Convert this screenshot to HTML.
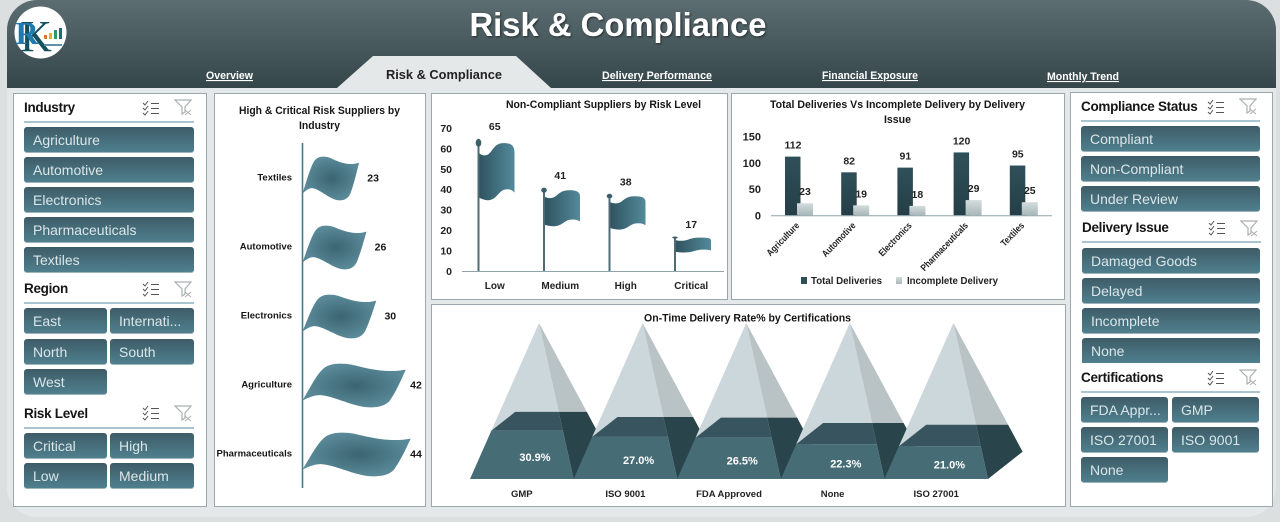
<!DOCTYPE html>
<html lang="en">
<head>
<meta charset="utf-8">
<title>Risk &amp; Compliance</title>
<style>
html,body{margin:0;padding:0;width:1280px;height:522px;overflow:hidden;background:#dcdfe0;font-family:"Liberation Sans",sans-serif;}
#stage{position:relative;width:1280px;height:522px;overflow:hidden;}
#art{position:absolute;left:0;top:0;}
.head{position:absolute;font-weight:bold;font-size:13.5px;letter-spacing:-.3px;color:#151515;line-height:16px;white-space:nowrap;}
.rule{position:absolute;height:2px;background:#a9c6d0;}
.sb{position:absolute;height:26px;box-sizing:border-box;padding-left:9px;line-height:27px;font-size:14px;color:#dbe6e9;border-radius:3px;background:linear-gradient(#3e5c67,#4f7f8e);border-bottom:1px solid #9fb4ba;white-space:nowrap;overflow:hidden;}
.sb.cut{border-radius:3px 3px 0 0;border-bottom:0;}
svg text{font-family:"Liberation Sans",sans-serif;}
</style>
</head>
<body>
<div id="stage">
<svg id="art" width="1280" height="522" viewBox="0 0 1280 522" xmlns="http://www.w3.org/2000/svg">
  <defs>
    <linearGradient id="hdr" gradientUnits="userSpaceOnUse" x1="0" y1="0" x2="0" y2="88"><stop offset="0" stop-color="#5c6d72"/><stop offset="1" stop-color="#35464a"/></linearGradient>
    <linearGradient id="flagH" x1="0" y1="0" x2="1" y2="0"><stop offset="0" stop-color="#2f525f"/><stop offset="1" stop-color="#538a9a"/></linearGradient>
    <radialGradient id="flagR" cx=".52" cy=".5" r=".5"><stop offset="0" stop-color="#3c6471"/><stop offset="1" stop-color="#5a8a99"/></radialGradient>
    <linearGradient id="barT" x1="0" y1="0" x2="0" y2="1"><stop offset="0" stop-color="#2f505a"/><stop offset="1" stop-color="#243e46"/></linearGradient>
    <linearGradient id="barI" x1="0" y1="0" x2="0" y2="1"><stop offset="0" stop-color="#d3dcdd"/><stop offset="1" stop-color="#a8b7ba"/></linearGradient>
    <clipPath id="hdrClip"><rect x="7" y="0" width="1269" height="88"/></clipPath>
    <symbol id="ico-check" viewBox="0 0 18 16">
      <path d="M1 3l2 2 3-4M1 8l2 2 3-4M1 13l2 2 3-4" fill="none" stroke="#555" stroke-width="1"/>
      <path d="M9 3.5h8M9 8.5h8M9 13.5h8" fill="none" stroke="#555" stroke-width="1.1"/>
    </symbol>
    <symbol id="ico-filter" viewBox="0 0 18 17">
      <path d="M1 1h16l-6 7v5l-3 2V8z" fill="none" stroke="#aab0b2" stroke-width="1.2"/>
      <path d="M11 11l6 5M17 11l-6 5" stroke="#aab0b2" stroke-width="1"/>
    </symbol>
  </defs>
  <rect x="7" y="0" width="1269" height="517" rx="30" fill="#e4e8e9"/>
  <rect x="7" y="0" width="1269" height="130" rx="30" fill="url(#hdr)" clip-path="url(#hdrClip)"/>
  <text x="618" y="36" font-size="33" font-weight="bold" fill="#fff" text-anchor="middle" textLength="297" lengthAdjust="spacingAndGlyphs" style="filter:drop-shadow(1px 1px 1px rgba(0,0,0,.55))">Risk &amp; Compliance</text>

  <g>
    <circle cx="40.5" cy="32.5" r="26" fill="#fff"/>
    <text x="36" y="51" font-size="44" fill="#12505e" text-anchor="middle" style="font-family:'Liberation Serif',serif">K</text>
    <text x="27" y="44" font-size="32" font-weight="bold" fill="#1f7ab0" text-anchor="middle" style="font-family:'Liberation Serif',serif">R</text>
    <rect x="44" y="35" width="3" height="4" fill="#e2732a"/><rect x="49" y="33" width="3" height="6" fill="#e2b02a"/><rect x="54" y="30" width="3" height="9" fill="#2a9a6a"/><rect x="59" y="28" width="3" height="11" fill="#12707e"/>
    <rect x="44" y="44" width="18" height="2" fill="#5e93a8"/>
  </g>

  <path d="M337 88L373 56H516L551 88Z" fill="#e4e8e9"/>
  <text x="444" y="79" font-size="13" font-weight="bold" fill="#222" text-anchor="middle" textLength="116" lengthAdjust="spacingAndGlyphs">Risk &amp; Compliance</text>
  <text x="229.5" y="79" font-size="11" font-weight="bold" fill="#fff" text-anchor="middle" text-decoration="underline" textLength="47" lengthAdjust="spacingAndGlyphs">Overview</text>
  <text x="657" y="79" font-size="11" font-weight="bold" fill="#fff" text-anchor="middle" text-decoration="underline" textLength="110" lengthAdjust="spacingAndGlyphs">Delivery Performance</text>
  <text x="870" y="79" font-size="11" font-weight="bold" fill="#fff" text-anchor="middle" text-decoration="underline" textLength="96" lengthAdjust="spacingAndGlyphs">Financial Exposure</text>
  <text x="1083" y="80" font-size="11" font-weight="bold" fill="#fff" text-anchor="middle" text-decoration="underline" textLength="72" lengthAdjust="spacingAndGlyphs">Monthly Trend</text>

  <rect x="13.5" y="93.5" width="193" height="413" fill="#fff" stroke="#9aa8ab"/>
  <rect x="214.5" y="93.5" width="211" height="413" fill="#fff" stroke="#9aa8ab"/>
  <rect x="431.5" y="93.5" width="296" height="206" fill="#fff" stroke="#9aa8ab"/>
  <rect x="731.5" y="93.5" width="333" height="206" fill="#fff" stroke="#9aa8ab"/>
  <rect x="431.5" y="304.5" width="634" height="202" fill="#fff" stroke="#9aa8ab"/>
  <rect x="1070.5" y="92.5" width="202" height="414" fill="#fff" stroke="#9aa8ab"/>

  <g fill="#161616" font-weight="bold" font-size="11">
    <text x="319.5" y="114" text-anchor="middle" textLength="161" lengthAdjust="spacingAndGlyphs">High &amp; Critical Risk Suppliers by</text>
    <text x="319.5" y="129" text-anchor="middle" textLength="41" lengthAdjust="spacingAndGlyphs">Industry</text>
    <text x="603.5" y="108" text-anchor="middle" textLength="195" lengthAdjust="spacingAndGlyphs">Non-Compliant Suppliers by Risk Level</text>
    <text x="897.5" y="108" text-anchor="middle" textLength="255" lengthAdjust="spacingAndGlyphs">Total Deliveries Vs Incomplete Delivery by Delivery</text>
    <text x="897.5" y="123" text-anchor="middle" textLength="27" lengthAdjust="spacingAndGlyphs">Issue</text>
  </g>

  <g id="chart-industry"></g>
  <g id="chart-risk"></g>
  <g id="chart-deliveries"></g>
  <g id="chart-cert"></g>
  <text x="747.5" y="321.5" font-size="11" font-weight="bold" fill="#161616" text-anchor="middle" textLength="207" lengthAdjust="spacingAndGlyphs">On-Time Delivery Rate% by Certifications</text>

  <use href="#ico-check" x="142" y="100" width="18" height="16"/>
  <use href="#ico-filter" x="174" y="99" width="18" height="17"/>
  <use href="#ico-check" x="142" y="281" width="18" height="16"/>
  <use href="#ico-filter" x="174" y="281" width="18" height="17"/>
  <use href="#ico-check" x="142" y="405" width="18" height="16"/>
  <use href="#ico-filter" x="174" y="405" width="18" height="17"/>
  <use href="#ico-check" x="1207" y="99" width="18" height="16"/>
  <use href="#ico-filter" x="1239" y="98" width="18" height="17"/>
  <use href="#ico-check" x="1208" y="220" width="18" height="16"/>
  <use href="#ico-filter" x="1240" y="220" width="18" height="17"/>
  <use href="#ico-check" x="1207" y="370" width="18" height="16"/>
  <use href="#ico-filter" x="1239" y="369" width="18" height="17"/>
</svg>

<div class="head" style="left:24px;top:100px">Industry</div>
<div class="rule" style="left:24px;top:121px;width:170px"></div>
<div class="sb" style="left:24px;top:127px;width:170px">Agriculture</div>
<div class="sb" style="left:24px;top:157px;width:170px">Automotive</div>
<div class="sb" style="left:24px;top:187px;width:170px">Electronics</div>
<div class="sb" style="left:24px;top:217px;width:170px">Pharmaceuticals</div>
<div class="sb" style="left:24px;top:247px;width:170px">Textiles</div>

<div class="head" style="left:24px;top:281px">Region</div>
<div class="rule" style="left:24px;top:302px;width:170px"></div>
<div class="sb" style="left:24px;top:308px;width:83px">East</div>
<div class="sb" style="left:110px;top:308px;width:84px">Internati...</div>
<div class="sb" style="left:24px;top:339px;width:83px">North</div>
<div class="sb" style="left:110px;top:339px;width:84px">South</div>
<div class="sb" style="left:24px;top:369px;width:83px">West</div>

<div class="head" style="left:24px;top:406px">Risk Level</div>
<div class="rule" style="left:24px;top:427px;width:170px"></div>
<div class="sb" style="left:24px;top:433px;width:83px">Critical</div>
<div class="sb" style="left:110px;top:433px;width:84px">High</div>
<div class="sb" style="left:24px;top:463px;width:83px">Low</div>
<div class="sb" style="left:110px;top:463px;width:84px">Medium</div>

<div class="head" style="left:1081px;top:99px">Compliance Status</div>
<div class="rule" style="left:1081px;top:120px;width:179px"></div>
<div class="sb" style="left:1081px;top:126px;width:179px">Compliant</div>
<div class="sb" style="left:1081px;top:156px;width:179px">Non-Compliant</div>
<div class="sb" style="left:1081px;top:186px;width:179px">Under Review</div>

<div class="head" style="left:1082px;top:220px">Delivery Issue</div>
<div class="rule" style="left:1082px;top:241px;width:179px"></div>
<div class="sb" style="left:1082px;top:248px;width:178px">Damaged Goods</div>
<div class="sb" style="left:1082px;top:278px;width:178px">Delayed</div>
<div class="sb" style="left:1082px;top:308px;width:178px">Incomplete</div>
<div class="sb cut" style="left:1082px;top:338px;width:178px;height:25px">None</div>

<div class="head" style="left:1081px;top:370px">Certifications</div>
<div class="rule" style="left:1081px;top:391px;width:179px"></div>
<div class="sb" style="left:1081px;top:397px;width:87px">FDA Appr...</div>
<div class="sb" style="left:1172px;top:397px;width:87px">GMP</div>
<div class="sb" style="left:1081px;top:427px;width:87px">ISO 27001</div>
<div class="sb" style="left:1172px;top:427px;width:87px">ISO 9001</div>
<div class="sb" style="left:1081px;top:457px;width:87px">None</div>
</div>

<script>
// ---- chart data ----
const industryCategories = ["Textiles", "Automotive", "Electronics", "Agriculture", "Pharmaceuticals"];
const industryValues = [23, 26, 30, 42, 44];

const riskCategories = ["Low", "Medium", "High", "Critical"];
const riskValues = [65, 41, 38, 17];
const riskTicks = [0, 10, 20, 30, 40, 50, 60, 70];

const deliveryCategories = ["Agriculture", "Automotive", "Electronics", "Pharmaceuticals", "Textiles"];
const totalDeliveries = [112, 82, 91, 120, 95];
const incompleteDeliveries = [23, 19, 18, 29, 25];
const deliveryTicks = [0, 50, 100, 150];

const certCategories = ["GMP", "ISO 9001", "FDA Approved", "None", "ISO 27001"];
const certRates = [30.9, 27.0, 26.5, 22.3, 21.0];

// ---- helpers ----
const NS = "http://www.w3.org/2000/svg";
function make(tag, attrs, parent, text) {
  const node = document.createElementNS(NS, tag);
  for (const k in attrs) node.setAttribute(k, attrs[k]);
  if (text !== undefined) node.textContent = text;
  parent.appendChild(node);
  return node;
}
function poly(pts) { return pts.map(p => p[0].toFixed(1) + "," + p[1].toFixed(1)).join(" "); }
const slug = s => s.toLowerCase().replace(/[^a-z0-9]+/g, "-");

// ---- chart 1: horizontal flags ----
(function () {
  const g = document.getElementById("chart-industry");
  const x0 = 302.5, pxPerUnit = 2.46, flagH = 44;
  const xScale = v => v * pxPerUnit;
  const yScale = i => 177 + i * 69;
  const axis = make("line", { x1: x0, x2: x0, y1: 143, y2: 488, stroke: "#4f7582", "stroke-width": 1.6 }, g);
  
  
  industryValues.forEach((v, i) => {
    const W = xScale(v), cy = yScale(i), top = cy - 21;
    const X = u => (x0 + u * W).toFixed(1), Y = t => (top + t * flagH).toFixed(1);
    const c = (a, b, d, e, f, h) => `C${X(a)} ${Y(b)} ${X(d)} ${Y(e)} ${X(f)} ${Y(h)}`;
    const d = `M${X(0)} ${Y(.85)}` + c(.06, .62, .13, .28, .2, .13) + c(.26, .01, .36, -.01, .48, .04) +
      c(.62, .12, .8, .24, 1, .15) + c(.96, .35, .92, .58, .86, .8) + c(.82, .98, .72, 1.03, .6, 1) +
      c(.45, .95, .3, .75, .17, .73) + c(.1, .73, .05, .8, 0, .85) + "Z";
    const flag = make("path", { d: d, fill: "url(#flagR)" }, g);
    
    
    const label = make("text", { x: 292, y: cy + 3.5, "text-anchor": "end", "font-size": 9.5, "font-weight": "bold", fill: "#161616" }, g, industryCategories[i]);
    
    
    const val = make("text", { x: Math.min(x0 + W + 14, 416), y: cy + 4.5, "text-anchor": "middle", "font-size": 10.5, "font-weight": "bold", fill: "#161616" }, g, v);
    
    
  });
})();

// ---- chart 2: vertical flags ----
(function () {
  const g = document.getElementById("chart-risk");
  const y0 = 271, unit = 2.045, left = 462, band = 65.5, flagW = 36;
  const yScale = v => y0 - v * unit;
  const xScale = i => left + band * i;
  riskTicks.forEach(t => {
    const tick = make("text", { x: 452, y: yScale(t) + 4, "text-anchor": "end", "font-size": 10.5, "font-weight": "bold", fill: "#222" }, g, t);
    
    
  });
  const axis = make("line", { x1: left, x2: left + band * riskValues.length, y1: y0 + .5, y2: y0 + .5, stroke: "#8fa5ab", "stroke-width": 1 }, g);
  
  
  riskValues.forEach((v, i) => {
    const p = xScale(i) + 16.5, T = yScale(v), H = y0 - T;
    const X = u => (p + u * flagW).toFixed(1), Y = t => (T + t * H).toFixed(1);
    const c = (a, b, d, e, f, h) => `C${X(a)} ${Y(b)} ${X(d)} ${Y(e)} ${X(f)} ${Y(h)}`;
    const d = `M${X(0)} ${Y(.11)}` + c(.08, .13, .16, .135, .25, .125) + c(.38, .11, .42, .04, .68, .038) +
      c(.88, .036, 1, .05, 1, .11) + `L${X(1)} ${Y(.41)}` + c(.92, .385, .82, .38, .7, .39) +
      c(.55, .405, .48, .47, .25, .467) + c(.15, .465, .06, .455, 0, .445) + "Z";
    const flag = make("path", { d: d, fill: "url(#flagH)" }, g);
    
    
    const pole = make("rect", { x: p - 1, y: T + 2, width: 2, height: H - 2, fill: "#4d6c76" }, g);
    
    
    const knob = make("ellipse", { cx: p, cy: T + H * .036, rx: 2.8, ry: H * .03, fill: "#3d5f6a" }, g);
    
    
    const val = make("text", { x: xScale(i) + band / 2, y: T - 8, "text-anchor": "middle", "font-size": 10.5, "font-weight": "bold", fill: "#222" }, g, v);
    
    
    const label = make("text", { x: xScale(i) + band / 2, y: 289, "text-anchor": "middle", "font-size": 10, "font-weight": "bold", fill: "#222" }, g, riskCategories[i]);
    
    
  });
})();

// ---- chart 3: clustered bars ----
(function () {
  const g = document.getElementById("chart-deliveries");
  const y0 = 215.3, unit = .524, left = 771, band = 56.2;
  const yScale = v => y0 - v * unit;
  const xScale = i => left + band * i;
  deliveryTicks.forEach(t => {
    const tick = make("text", { x: 761, y: yScale(t) + 4, "text-anchor": "end", "font-size": 11, "font-weight": "bold", fill: "#222" }, g, t);
    
    
  });
  deliveryCategories.forEach((cat, i) => {
    const x = xScale(i);
    const tv = totalDeliveries[i], iv = incompleteDeliveries[i];
    const bt = make("rect", { x: x + 14, y: yScale(tv), width: 15.5, height: y0 - yScale(tv), fill: "url(#barT)" }, g);
    
    
    const bi = make("rect", { x: x + 26, y: yScale(iv), width: 16, height: y0 - yScale(iv), fill: "url(#barI)" }, g);
    
    
    const lt = make("text", { x: x + 22, y: yScale(tv) - 8, "text-anchor": "middle", "font-size": 10.5, "font-weight": "bold", fill: "#222" }, g, tv);
    
    
    const li = make("text", { x: x + 34, y: yScale(iv) - 8, "text-anchor": "middle", "font-size": 10.5, "font-weight": "bold", fill: "#222" }, g, iv);
    
    
    const ax = x + 29, ay = 226;
    const lab = make("text", { x: ax, y: ay, "text-anchor": "end", "font-size": 9.5, "font-weight": "bold", fill: "#222", transform: `rotate(-46 ${ax} ${ay})` }, g, cat);
    
    
    lab.setAttribute("textLength", (lab.getComputedTextLength() * .84).toFixed(1));
    lab.setAttribute("lengthAdjust", "spacingAndGlyphs");
  });
  const axis = make("line", { x1: left, x2: left + band * deliveryCategories.length, y1: y0 + .5, y2: y0 + .5, stroke: "#8fa5ab", "stroke-width": 1 }, g);
  
  
  const m1 = make("rect", { x: 801, y: 277, width: 6, height: 7, fill: "#2f4e58" }, g);
  
  
  const t1 = make("text", { x: 811, y: 284, "font-size": 10, "font-weight": "bold", fill: "#222", textLength: 71, lengthAdjust: "spacingAndGlyphs" }, g, "Total Deliveries");
  
  
  const m2 = make("rect", { x: 896, y: 277, width: 6, height: 7, fill: "url(#barI)" }, g);
  
  
  const t2 = make("text", { x: 907, y: 284, "font-size": 10, "font-weight": "bold", fill: "#222", textLength: 91, lengthAdjust: "spacingAndGlyphs" }, g, "Incomplete Delivery");
  
  
})();

// ---- chart 4: 3D pyramids ----
(function () {
  const g = document.getElementById("chart-cert");
  const baseY = 479, apexY = 323, left = 470, band = 103.6, depthX = 34.6, depthY = 27.3;
  const frac = v => v / 100;
  const xScale = i => left + band * i;
  certRates.forEach((v, i) => {
    const t = frac(v), cat = slug(certCategories[i]);
    const FL = [xScale(i), baseY], FR = [xScale(i) + band, baseY];
    const BR = [FR[0] + depthX, baseY - depthY], BL = [FL[0] + depthX, baseY - depthY];
    const A = [xScale(i) + 69, apexY];
    const at = (P) => [P[0] + (A[0] - P[0]) * t, P[1] + (A[1] - P[1]) * t];
    const FLc = at(FL), FRc = at(FR), BRc = at(BR), BLc = at(BL);
    const s = (A[1] - BRc[1]) / (A[1] - FR[1]);
    const K = [A[0] + (FR[0] - A[0]) * s, BRc[1]];
    const faces = [
      ["upper-right", [A, K, BRc], "#b9c2c5"],
      ["upper-front", [A, K, FRc, FLc], "#cbd7da"],
      ["lower-right", [FR, BR, BRc, K, FRc], "#2a444c"],
      ["top-cut", [FLc, FRc, K, BLc], "#38545e"],
      ["lower-front", [FL, FR, FRc, FLc], "#466c76"]
    ];
    faces.forEach(f => {
      const face = make("polygon", { points: poly(f[1]), fill: f[2] }, g);
      
      
    });
    const val = make("text", { x: xScale(i) + 65, y: (baseY + FLc[1]) / 2 + 6, "text-anchor": "middle", "font-size": 11, "font-weight": "bold", fill: "#fff" }, g, v.toFixed(1) + "%");
    
    
    const lab = make("text", { x: xScale(i) + band / 2, y: 497, "text-anchor": "middle", "font-size": 9.5, "font-weight": "bold", fill: "#222" }, g, certCategories[i]);
    
    
  });
})();
</script>
</body>
</html>
